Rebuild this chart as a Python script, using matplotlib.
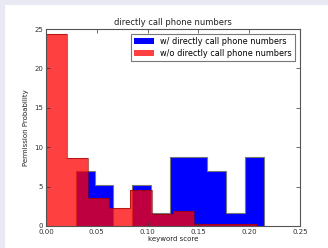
import numpy as np
import matplotlib
matplotlib.use('Agg')
import matplotlib.pyplot as plt
from matplotlib.patches import Rectangle

# histogram heights (normed)
blue_vals = [7.0, 5.2, 0.0, 5.2, 1.7, 8.7, 8.7, 7.0, 1.7, 8.7]
red_vals = [24.4, 8.6, 3.6, 2.3, 4.6, 1.5, 1.9, 0.3, 0.2, 0.3]
blue_edges = np.linspace(0.0295, 0.2140, 11)
red_edges = np.linspace(0.0, 0.2077, 11)

fig = plt.figure(figsize=(3.28, 2.48), dpi=100, facecolor='#e9e9f3')
# white page region inside the lavender frame
fig.patches.append(Rectangle((0.015, -0.1), 1.1, 1.08, transform=fig.transFigure,
                             facecolor='white', edgecolor='none', zorder=-10))

ax = fig.add_axes([0.140, 0.089, 0.775, 0.794])
ax.set_zorder(5)

ax.stairs(blue_vals, blue_edges, fill=True, color='#0000ff',
          label='w/ directly call phone numbers')
ax.stairs(blue_vals, blue_edges, fill=False, color='#777777', lw=0.8)
ax.stairs(red_vals, red_edges, fill=True, color='red', alpha=0.75,
          label='w/o directly call phone numbers')
ax.stairs(red_vals, red_edges, fill=False, color='#880000', alpha=0.6, lw=0.8)

ax.set_xlim(0, 0.25)
ax.set_ylim(0, 25)
ax.set_xticks([0.0, 0.05, 0.10, 0.15, 0.20, 0.25])
ax.set_xticklabels(['0.00', '0.05', '0.10', '0.15', '0.20', '0.25'])
ax.set_yticks([0, 5, 10, 15, 20, 25])
ax.tick_params(direction='in', top=True, right=True, labelsize=5, length=3,
               width=0.5, pad=2, colors='#333333')
for s in ax.spines.values():
    s.set_color('#555555')
    s.set_linewidth(0.8)

ax.set_title('directly call phone numbers', fontsize=6, pad=3, color='#222222')
ax.set_xlabel('keyword score', fontsize=5, labelpad=1, color='#222222')
ax.set_ylabel('Permission Probability', fontsize=5, labelpad=4, color='#222222')

leg = ax.legend(loc='upper right', fontsize=5.9, fancybox=False,
                borderpad=0.4, handlelength=2.4, labelspacing=0.3,
                borderaxespad=0.6)
leg.get_frame().set_edgecolor('#555555')
leg.get_frame().set_linewidth(0.8)

fig.savefig('out.png', dpi=100, facecolor=fig.get_facecolor())
